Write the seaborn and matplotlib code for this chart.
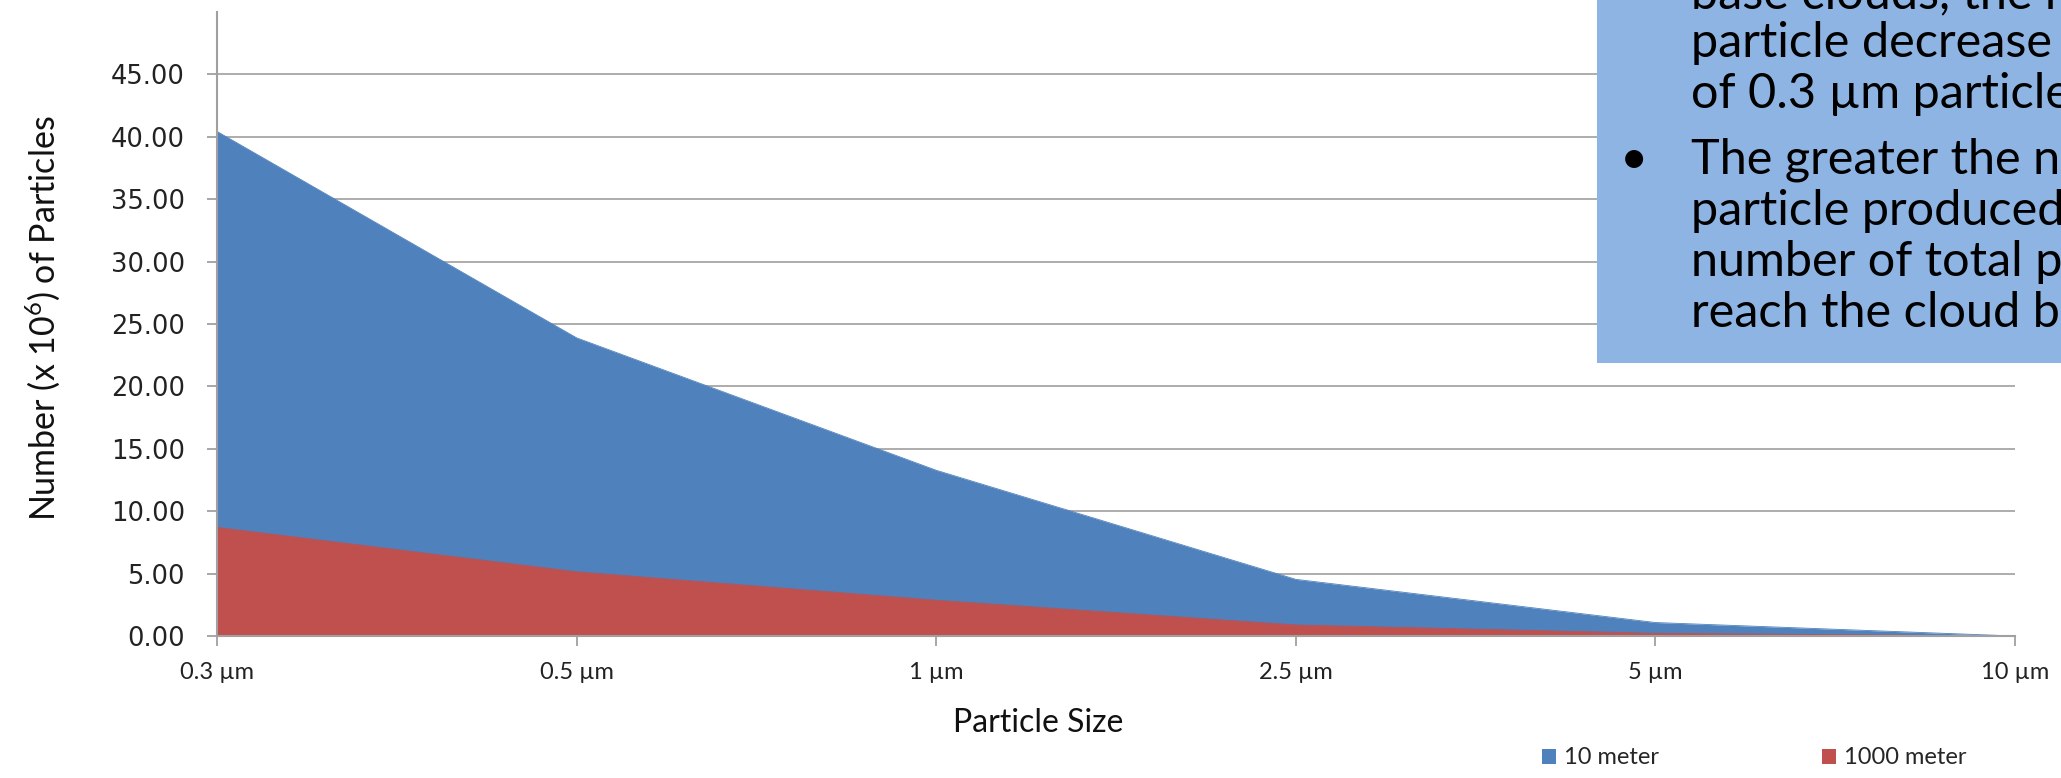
import matplotlib
matplotlib.use("Agg")
import matplotlib.pyplot as plt
from matplotlib.patches import Rectangle, Patch
import seaborn as sns
import pandas as pd

# Particle counts (x 10^6) at two heights, by particle size
sizes = ["0.3 µm", "0.5 µm", "1 µm", "2.5 µm", "5 µm", "10 µm"]
count_10m = [40.43, 23.89, 13.28, 4.54, 1.08, 0.0]
count_1000m = [8.71, 5.15, 2.87, 0.89, 0.22, 0.0]
series_names = ["10 meter", "1000 meter"]
series_colors = ["#4F81BD", "#C0504D"]
y_ticks = [0, 5, 10, 15, 20, 25, 30, 35, 40, 45]

box_lines = [
    ("base clouds, the n", False),
    ("particle decrease", False),
    ("of 0.3 µm particle", False),
    ("The greater the n", True),
    ("particle produced", False),
    ("number of total p", False),
    ("reach the cloud b", False),
]

sns.set_theme(style="white")
plt.rcParams["font.family"] = ["Lato", "DejaVu Sans"]
plt.rcParams["mathtext.default"] = "regular"

W, H = 2061, 778
fig = plt.figure(figsize=(W / 100, H / 100), dpi=100)
ax = fig.add_axes([217 / W, 1 - 636 / H, (2015 - 217) / W, (636 - 12) / H])

df = pd.DataFrame({"size": sizes, "pos": range(len(sizes)),
                   series_names[0]: count_10m, series_names[1]: count_1000m})
long = df.melt(id_vars=["size", "pos"], var_name="height", value_name="count")

# Area outlines via seaborn, fills beneath them
sns.lineplot(data=long, x="pos", y="count", hue="height",
             palette=dict(zip(series_names, series_colors)),
             linewidth=0.6, legend=False, ax=ax, zorder=3)
for name, color, z in zip(series_names, series_colors, [2, 4]):
    ax.fill_between(df["pos"], 0, df[name], color=color, linewidth=0, zorder=z)
for line, z in zip(ax.lines, [2.5, 4.5]):
    line.set_zorder(z)

ax.set_xlim(0, len(sizes) - 1)
ax.set_ylim(0, 50)
ax.set_xticks(range(len(sizes)))
ax.set_xticklabels(sizes)
ax.set_yticks(y_ticks)
ax.set_yticklabels([f"{v:.2f}" for v in y_ticks], family="DejaVu Sans", fontsize=18.5)
ax.tick_params(axis="x", labelsize=17, pad=12, length=7, width=1.3,
               color="#A0A0A0", direction="out", bottom=True)
ax.tick_params(axis="y", pad=16, length=7, width=1.3,
               color="#A0A0A0", direction="out", left=True)
for lab in ax.get_xticklabels() + ax.get_yticklabels():
    lab.set_color("#222222")

ax.grid(axis="y", color="#A6A6A6", linewidth=1.3, zorder=1)
ax.grid(axis="x", visible=False)
ax.set_axisbelow(True)
for side in ["top", "right"]:
    ax.spines[side].set_visible(False)
for side in ["left", "bottom"]:
    ax.spines[side].set_color("#A0A0A0")
    ax.spines[side].set_linewidth(1.5)
    ax.spines[side].set_zorder(6)

ax.set_xlabel("")
ax.set_ylabel("")
fig.text(1038 / W, 1 - 723 / H, "Particle Size", ha="center", va="center",
         fontsize=23, color="#111111")
fig.text(43 / W, 1 - 318 / H, "Number (x 10$^{6}$) of Particles", rotation=90,
         ha="center", va="center", fontsize=24.5, color="#111111")

handles = [Patch(facecolor=c, edgecolor="none") for c in series_colors]
fig.legend(handles, series_names, loc="center left",
           bbox_to_anchor=(1542 / W, 1 - 758 / H), ncol=2, frameon=False,
           fontsize=17, handlelength=0.59, handleheight=0.59,
           handletextpad=0.34, columnspacing=6.9, borderpad=0,
           borderaxespad=0)

# Callout box in the top-right corner
fig.add_artist(Rectangle((1597 / W, 1 - 363 / H), 1 - 1597 / W, 363 / H,
                         transform=fig.transFigure, facecolor="#8DB4E2",
                         edgecolor="none", zorder=10))
baselines = [8, 57, 108, 173, 225, 276, 327]
for (txt, bullet), yb in zip(box_lines, baselines):
    fig.text(1691 / W, 1 - yb / H, txt, ha="left", va="baseline",
             fontsize=35, color="black", zorder=11)
    if bullet:
        fig.text(1620 / W, 1 - yb / H, "•", ha="left", va="baseline",
                 fontsize=35, color="black", zorder=11)

fig.savefig("out.png", dpi=100)
